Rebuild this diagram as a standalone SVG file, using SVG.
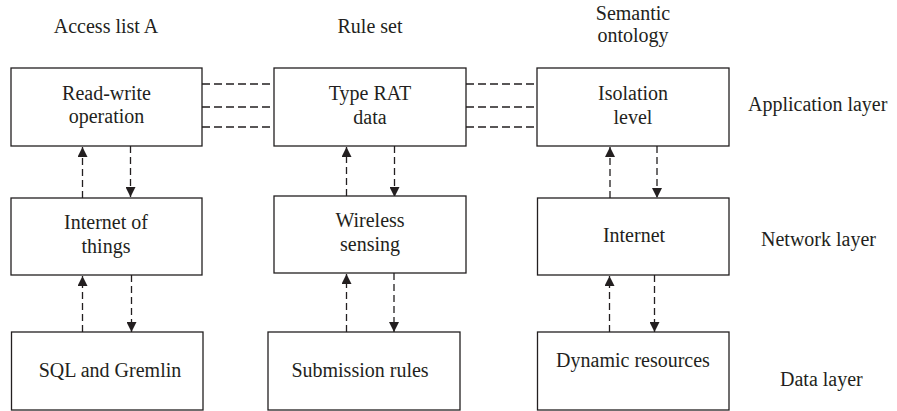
<svg xmlns="http://www.w3.org/2000/svg" width="897" height="411" viewBox="0 0 897 411">
  <defs>
    <style>
      .box { fill: #ffffff; stroke: #231f20; stroke-width: 1.3; }
      .lbl { font-family: "Liberation Serif", "Times New Roman", serif; font-size: 20px; fill: #231f20; text-anchor: middle; }
      .side { text-anchor: start; }
      .dash { stroke: #231f20; stroke-width: 1.3; stroke-dasharray: 8 4; fill: none; }
      .vdash { stroke: #231f20; stroke-width: 1.3; stroke-dasharray: 7 4; fill: none; }
    </style>
    <marker id="head" viewBox="0 0 10 10" refX="10" refY="5" markerWidth="10" markerHeight="10" markerUnits="userSpaceOnUse" orient="auto">
      <path d="M0,0 L10,5 L0,10 Z" fill="#231f20"/>
    </marker>
  </defs>
  <rect width="897" height="411" fill="#ffffff"/>

  <!-- column headings -->
  <text class="lbl" x="106" y="33">Access list A</text>
  <text class="lbl" x="370" y="33">Rule set</text>
  <text class="lbl" x="633" y="20">Semantic</text>
  <text class="lbl" x="633" y="42">ontology</text>

  <!-- layer labels -->
  <text class="lbl side" x="748" y="111">Application layer</text>
  <text class="lbl side" x="761" y="246">Network layer</text>
  <text class="lbl side" x="780" y="386">Data layer</text>

  <!-- connectors -->
  <g id="connectors">
    <line class="dash" x1="202" y1="84" x2="274" y2="84"/>
    <line class="dash" x1="202" y1="107" x2="274" y2="107"/>
    <line class="dash" x1="202" y1="127" x2="274" y2="127"/>
    <line class="dash" x1="466" y1="84" x2="537" y2="84"/>
    <line class="dash" x1="466" y1="107" x2="537" y2="107"/>
    <line class="dash" x1="466" y1="127" x2="537" y2="127"/>

    <line class="vdash" x1="82.5" y1="198" x2="82.5" y2="147" marker-end="url(#head)"/>
    <line class="vdash" x1="130.5" y1="146" x2="130.5" y2="197" marker-end="url(#head)"/>
    <line class="vdash" x1="346.5" y1="196" x2="346.5" y2="147" marker-end="url(#head)"/>
    <line class="vdash" x1="394.5" y1="146" x2="394.5" y2="197" marker-end="url(#head)"/>
    <line class="vdash" x1="610" y1="198" x2="610" y2="147" marker-end="url(#head)"/>
    <line class="vdash" x1="657" y1="146" x2="657" y2="198" marker-end="url(#head)"/>

    <line class="vdash" x1="82.5" y1="332" x2="82.5" y2="276" marker-end="url(#head)"/>
    <line class="vdash" x1="131.5" y1="275" x2="131.5" y2="332" marker-end="url(#head)"/>
    <line class="vdash" x1="346.5" y1="332" x2="346.5" y2="274" marker-end="url(#head)"/>
    <line class="vdash" x1="394" y1="273" x2="394" y2="332" marker-end="url(#head)"/>
    <line class="vdash" x1="609.5" y1="332" x2="609.5" y2="276" marker-end="url(#head)"/>
    <line class="vdash" x1="654.5" y1="275" x2="654.5" y2="332" marker-end="url(#head)"/>
  </g>

  <!-- application layer -->
  <g id="read-write">
    <rect class="box" x="11" y="68" width="191" height="78"/>
    <text class="lbl" x="106.5" y="100">Read-write</text>
    <text class="lbl" x="106.5" y="123">operation</text>
  </g>
  <g id="type-rat">
    <rect class="box" x="274" y="68" width="192" height="78"/>
    <text class="lbl" x="370" y="100">Type RAT</text>
    <text class="lbl" x="370" y="124">data</text>
  </g>
  <g id="isolation">
    <rect class="box" x="537" y="68" width="192" height="78"/>
    <text class="lbl" x="633" y="100">Isolation</text>
    <text class="lbl" x="633" y="124">level</text>
  </g>

  <!-- network layer -->
  <g id="iot">
    <rect class="box" x="11" y="198" width="191" height="77"/>
    <text class="lbl" x="106" y="229">Internet of</text>
    <text class="lbl" x="106" y="253">things</text>
  </g>
  <g id="wireless">
    <rect class="box" x="274" y="196" width="192" height="77"/>
    <text class="lbl" x="370" y="227">Wireless</text>
    <text class="lbl" x="370" y="251">sensing</text>
  </g>
  <g id="internet">
    <rect class="box" x="537.5" y="198" width="191.5" height="77"/>
    <text class="lbl" x="634" y="242">Internet</text>
  </g>

  <!-- data layer -->
  <g id="sql">
    <rect class="box" x="11.5" y="332" width="191.5" height="78"/>
    <text class="lbl" x="110" y="377">SQL and Gremlin</text>
  </g>
  <g id="submission">
    <rect class="box" x="268" y="332" width="192" height="78"/>
    <text class="lbl" x="360" y="377">Submission rules</text>
  </g>
  <g id="dynamic">
    <rect class="box" x="537.5" y="332" width="191.5" height="78"/>
    <text class="lbl" x="633" y="367">Dynamic resources</text>
  </g>
</svg>
